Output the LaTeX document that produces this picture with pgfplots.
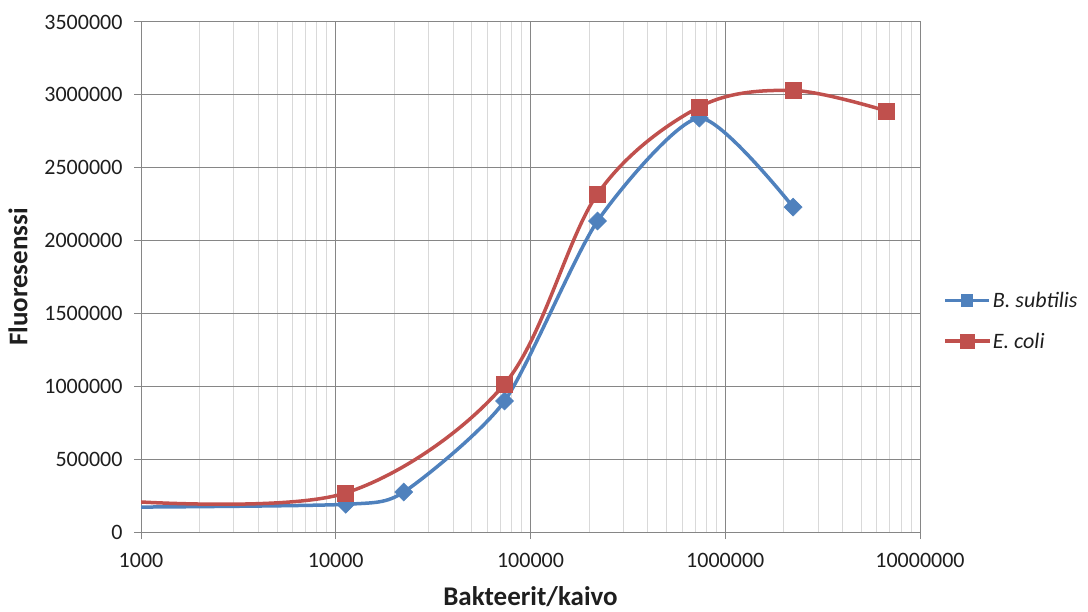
\documentclass[border=0pt]{standalone}
\usepackage{fontspec}
\setmainfont{Carlito}
\usepackage{pgfplots}
\pgfplotsset{compat=1.18}
\usetikzlibrary{calc}
\definecolor{xblue}{RGB}{79,129,189}
\definecolor{xred}{RGB}{192,80,77}
\definecolor{majgrid}{RGB}{134,134,134}
\definecolor{mingrid}{RGB}{217,217,217}
\definecolor{txt}{RGB}{30,30,30}
\begin{document}
\begin{tikzpicture}
\begin{semilogxaxis}[
  name=ax,
  scale only axis, width=779pt, height=510pt,
  xmin=1000, xmax=1e7, ymin=0, ymax=3500000,
  xtick={1000,10000,100000,1000000,10000000},
  xticklabels={1000,10000,100000,1000000,10000000},
  ytick={0,500000,1000000,1500000,2000000,2500000,3000000,3500000},
  yticklabels={0,500000,1000000,1500000,2000000,2500000,3000000,3500000},
  scaled y ticks=false,
  grid=both,
  major grid style={majgrid, line width=1pt},
  minor grid style={mingrid, line width=1pt},
  axis line style={majgrid, line width=1pt},
  tick style={majgrid, line width=1pt},
  major tick length=7pt, minor tick length=0pt,
  tick align=outside, xtick pos=bottom, ytick pos=left,
  ticklabel style={font=\fontsize{22}{26}\selectfont, text=txt},
  xticklabel style={yshift=-11pt},
  yticklabel style={xshift=-8pt},
  xlabel={Bakteerit/kaivo}, ylabel={Fluoresenssi},
  label style={font=\fontsize{27}{32}\selectfont\bfseries, text=txt},
  xlabel style={at={(axis description cs:0.5,0)}, anchor=center, yshift=-65pt},
  ylabel style={at={(axis description cs:0,0.5)}, anchor=center, yshift=123pt},
  legend style={at={(axis description cs:1.026,0.414)}, anchor=west, draw=none, fill=none,
    font=\fontsize{22}{26}\selectfont\itshape, text=txt, row sep=20pt},
  legend cell align=left,
  legend image code/.code={\draw[mark indices={2},mark options={scale=0.7}] plot coordinates {(0pt,0pt)(22pt,0pt)(44pt,0pt)};},
]
\addplot[xblue, line width=3.5pt, smooth, tension=0.4, mark=square*, mark size=6.4pt,
  mark options={solid, rotate=45, fill=xblue, draw=xblue, line width=0.5pt},
  mark indices={2,3,4,5,6,7}]
  coordinates {(1000,171000) (11250,190000) (22340,274000) (73600,899000) (220800,2134000) (736000,2841000) (2230000,2230000)};
\addlegendentry{B. subtilis}
\addplot[xred, line width=3.5pt, smooth, tension=0.55, mark=square*, mark size=8pt,
  mark options={solid, fill=xred, draw=xred, line width=0.5pt},
  mark indices={2,3,4,5,6,7}]
  coordinates {(1000,206000) (11250,268000) (73600,1016000) (220800,2320000) (736000,2917000) (2230000,3030000) (6700000,2890000)};
\addlegendentry{E. coli}
\end{semilogxaxis}
\pgfresetboundingbox
\path ($(ax.south west)+(-141pt,-79pt)$) rectangle ($(ax.north east)+(168pt,22pt)$);
\end{tikzpicture}
\end{document}
